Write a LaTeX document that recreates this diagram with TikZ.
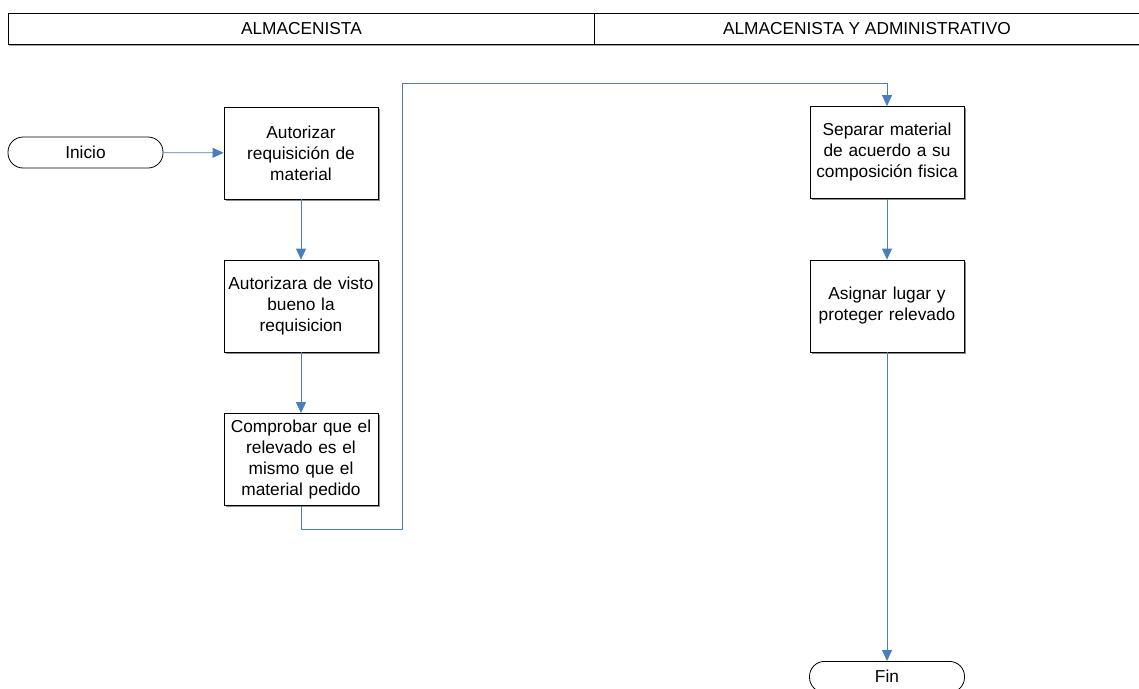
\documentclass[tikz,border=0pt]{standalone}
\usepackage{fontspec}
\setmainfont{Liberation Sans}
\usetikzlibrary{arrows.meta,shadows}
\definecolor{flowblue}{HTML}{4A7EBB}
\begin{document}
\begin{tikzpicture}[x=1pt,y=-1pt,
  font=\fontsize{17.3}{21}\selectfont,
  process/.style={draw=black,fill=white,line width=0.8pt,minimum width=154pt,minimum height=92pt,
    text width=148pt,align=center,inner sep=0pt,
    drop shadow={shadow xshift=1.5pt,shadow yshift=-1.5pt,fill=black!45,opacity=1}},
  terminal/.style={draw=black,fill=white,line width=0.8pt,rounded corners=15pt,minimum width=155pt,minimum height=31pt,inner sep=0pt},
  lane/.style={draw=black,line width=0.8pt,inner sep=0pt,
    drop shadow={shadow xshift=1pt,shadow yshift=-1.5pt,fill=black!35,opacity=1}},
  flow/.style={draw=flowblue,line width=0.8pt,-{Triangle[length=11pt,width=10pt]}}]
\useasboundingbox (0,0) rectangle (1139,688);
% swimlane headers
\node[lane,fill=white,minimum width=586pt,minimum height=31pt,anchor=north west] (laneA) at (8,13) {ALMACENISTA};
\node[lane,fill=white,minimum width=545pt,minimum height=31pt,anchor=north west] (laneB) at (594,13) {ALMACENISTA Y ADMINISTRATIVO};
% flow nodes
\node[terminal] (inicio) at (85.5,152.5) {Inicio};
\node[process] (p1) at (301,153) {Autorizar\\requisición de\\material};
\node[process] (p2) at (301,306) {Autorizara de visto\\bueno la\\requisicion};
\node[process] (p3) at (301,459.5) {Comprobar que el\\relevado es el\\mismo que el\\material pedido};
\node[process] (p4) at (887,152.5) {Separar material\\de acuerdo a su\\composición fisica};
\node[process] (p5) at (887,306) {Asignar lugar y\\proteger relevado};
\node[terminal,anchor=north] (fin) at (887,661) {};
\node[anchor=base] (fintext) at (887,682) {Fin};
% connectors
\draw[flow] (inicio) -- (p1);
\draw[flow] (p1) -- (p2);
\draw[flow] (p2) -- (p3);
\coordinate (c1) at (402,529);
\coordinate (c2) at (402,83);
\draw[flow] (p3.south) -- (p3.south |- c1) -- (c1) -- (c2) -- (p4.north |- c2) -- (p4.north);
\draw[flow] (p4) -- (p5);
\draw[flow] (p5) -- (fin.north);
\end{tikzpicture}
\end{document}
